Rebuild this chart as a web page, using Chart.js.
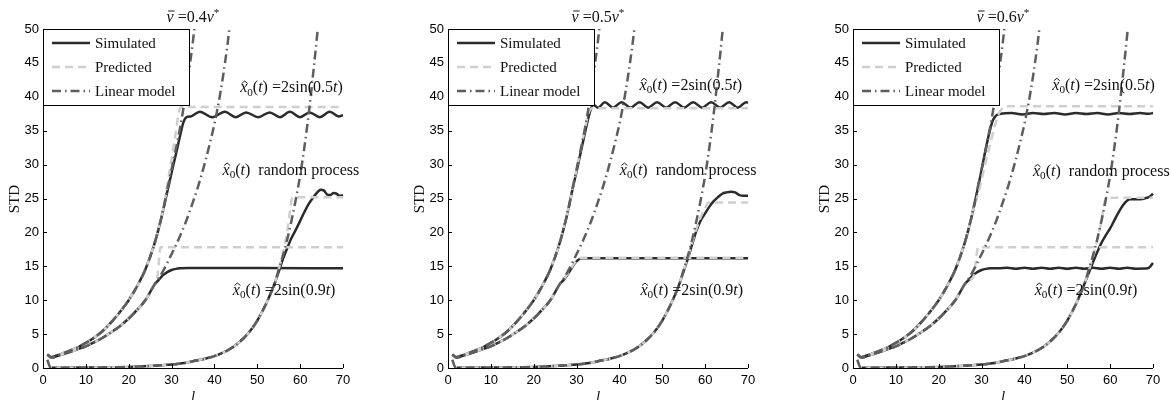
<!DOCTYPE html>
<html>
<head>
<meta charset="utf-8">
<script src="https://cdn.jsdelivr.net/npm/chart.js@4.4.1/dist/chart.umd.min.js"></script>
<style>
  html, body { margin: 0; padding: 0; background: #fff; }
  #wrap { position: relative; width: 1171px; height: 400px; overflow: hidden; }
  canvas { position: absolute; top: 0; }
</style>
</head>
<body>
<div id="wrap">
  <canvas id="c1" width="405" height="400" style="left:0px"></canvas>
  <canvas id="c2" width="405" height="400" style="left:405px"></canvas>
  <canvas id="c3" width="361" height="400" style="left:810px"></canvas>
</div>
<script>
// axis ticks and panel titles
const xTicks = [0, 10, 20, 30, 40, 50, 60, 70];
const yTicks = [0, 5, 10, 15, 20, 25, 30, 35, 40, 45, 50];
const speedRatios = ["0.4", "0.5", "0.6"];

// short starting marks of the predicted / linear curves
const startHigh = [[1, 2.0]];
const startLow = [[1, 1.2], [1.8, 0.05]];

// rising part shared by all three panels  [l, STD]
const riseUpper = [[2, 1.6], [4, 2.0], [6, 2.5], [8, 3.0], [10, 3.7], [12, 4.5], [14, 5.5], [16, 6.8], [18, 8.3], [20, 10.0], [22, 12.1], [24, 14.7], [26, 18.3], [27, 20.6], [28, 23.2]];
const riseMiddle = [[2, 1.5], [4, 1.9], [6, 2.3], [8, 2.75], [10, 3.2], [12, 3.8], [14, 4.5], [16, 5.3], [18, 6.2], [20, 7.3], [22, 8.6], [24, 10.1], [25, 11.2], [26, 12.3]];
const riseLower = [[2, 0.05], [6, 0.05], [10, 0.06], [15, 0.08], [20, 0.15], [25, 0.3], [28, 0.42], [30, 0.52], [33, 0.75], [35, 1.0], [38, 1.4], [40, 1.75], [42, 2.25], [44, 2.95], [46, 3.9], [48, 5.2], [50, 7.0], [52, 9.4], [54, 12.4]];

// linear model continues upward (same in every panel)
const linUpperTail = [[29, 26.3], [30, 29.3], [31, 32.3], [32, 35.5], [33, 39.2], [34, 43.5], [35, 48.3], [35.4, 50.6]];
const linMiddleTail = [[27, 13.2], [28, 14.3], [29, 15.5], [30, 16.8], [31, 18.1], [32, 19.5], [33, 21.0], [34, 22.7], [35, 24.5], [36, 26.4], [37, 28.5], [38, 30.8], [39, 33.3], [40, 36.0], [41, 39.2], [42, 43.0], [43, 47.5], [43.6, 50.6]];
const linLowerTail = [[55, 14.5], [56, 16.6], [57, 19.0], [58, 21.8], [59, 24.9], [60, 28.4], [61, 32.6], [62, 37.5], [63, 43.2], [64, 49.3], [64.2, 50.6]];

// panel 1  (v = 0.4 v*)
const simUpperTail1 = [[29, 26.0], [30, 28.8], [31, 31.5], [32, 34.3], [32.8, 36.3], [33.5, 37.0], [34.5, 37.1], [36.6, 37.8], [39.5, 37.0], [42.4, 37.8], [45, 37.0], [47.4, 37.7], [50.2, 37.0], [52.9, 37.7], [55.3, 37.0], [57.6, 37.8], [60, 37.0], [62.2, 37.7], [64.6, 37.0], [66.9, 37.8], [69, 37.1], [70, 37.3]];
const predUpperTail1 = [[29, 27.0], [30, 30.8], [31, 34.8], [31.8, 38.1], [32.4, 38.5], [70, 38.5]];
const simMiddleTail1 = [[27, 13.0], [28, 13.7], [29, 14.15], [30, 14.45], [31, 14.62], [32, 14.7], [34, 14.75], [50, 14.75], [70, 14.7]];
const predMiddleTail1 = [[26.5, 12.6], [27.0, 15.5], [27.4, 17.8], [70, 17.8]];
const simLowerTail1 = [[55, 14.2], [56, 16.1], [57, 17.7], [58, 19.2], [59, 20.4], [60, 21.7], [61, 23.0], [62, 24.2], [63, 25.1], [64, 25.9], [64.8, 26.3], [65.5, 26.2], [66.3, 25.6], [67, 25.5], [67.8, 25.8], [68.5, 25.7], [69.2, 25.4], [70, 25.5]];
const predLowerTail1 = [[55, 14.6], [56, 17.0], [57, 20.2], [57.6, 23.0], [58.1, 25.0], [58.7, 25.2], [70, 25.2]];

// panel 2  (v = 0.5 v*)
const simUpperTail2 = [[29, 26.2], [30, 29.0], [31, 31.9], [32, 34.8], [32.8, 37.0], [33.5, 38.5], [34, 38.8], [35, 38.4], [36.6, 39.2], [38.5, 38.4], [40.5, 39.2], [42.6, 38.4], [44.7, 39.2], [46.7, 38.4], [48.8, 39.2], [50.9, 38.4], [53, 39.2], [55.1, 38.4], [57.2, 39.2], [59.3, 38.4], [61.4, 39.2], [63.5, 38.4], [65.6, 39.2], [67.6, 38.4], [69.6, 39.2], [70, 39.1]];
const predUpperTail2 = [[29, 26.3], [30, 29.3], [31, 32.4], [32, 35.4], [32.8, 37.6], [33.6, 38.3], [70, 38.3]];
const simMiddleTail2 = [[27, 13.0], [28, 13.9], [29, 14.9], [29.8, 15.6], [30.5, 16.0], [31.3, 16.2], [70, 16.2]];
const predMiddleTail2 = [[27, 13.1], [28, 14.0], [29, 15.0], [29.9, 15.8], [30.6, 16.15], [31.5, 16.25], [70, 16.25]];
const simLowerTail2 = [[55, 14.3], [56, 16.2], [57, 18.3], [58, 20.3], [59, 21.8], [60, 22.8], [61, 23.8], [62, 24.6], [63, 25.2], [64, 25.7], [65, 25.9], [66, 26.0], [67, 25.9], [68, 25.5], [69, 25.4], [70, 25.4]];
const predLowerTail2 = [[55, 14.4], [56, 16.4], [57, 18.6], [58, 20.6], [59, 22.3], [60, 23.6], [60.8, 24.4], [70, 24.4]];

// panel 3  (v = 0.6 v*)
const simUpperTail3 = [[29, 26.1], [30, 29.2], [31, 32.4], [32, 35.2], [32.7, 36.6], [33.5, 37.3], [34.5, 37.5], [37, 37.6], [39.5, 37.4], [42, 37.6], [44.5, 37.45], [47, 37.6], [49.5, 37.4], [52, 37.6], [54.5, 37.45], [57, 37.6], [59.5, 37.4], [62, 37.6], [64.5, 37.45], [67, 37.6], [69, 37.5], [70, 37.6]];
const predUpperTail3 = [[29, 25.2], [30, 27.8], [31, 30.5], [32, 33.0], [33, 35.5], [34, 37.5], [35, 38.4], [36, 38.6], [70, 38.6]];
const simMiddleTail3 = [[27, 13.0], [28, 13.7], [29, 14.15], [30, 14.45], [31, 14.62], [32, 14.7], [34, 14.7], [36, 14.8], [38, 14.65], [40, 14.8], [42, 14.65], [44, 14.8], [46, 14.65], [48, 14.8], [50, 14.65], [52, 14.8], [54, 14.65], [56, 14.8], [58, 14.65], [60, 14.8], [62, 14.65], [64, 14.8], [66, 14.65], [68.8, 14.7], [69.4, 15.0], [70, 15.5]];
const predMiddleTail3 = [[27, 12.9], [28.2, 13.6], [28.7, 16.0], [29.2, 17.8], [70, 17.8]];
const simLowerTail3 = [[55, 14.0], [56, 15.6], [57, 17.1], [58, 18.5], [59, 19.6], [60, 20.6], [61, 21.8], [62, 23.0], [63, 24.0], [64, 24.7], [64.6, 24.9], [67, 24.9], [68.5, 25.1], [69.3, 25.3], [70, 25.7]];
const predLowerTail3 = [[55, 14.3], [56, 16.4], [57, 18.9], [58, 21.8], [58.6, 24.2], [59.1, 25.1], [70, 25.1]];

const simTails = [
  [simUpperTail1, simMiddleTail1, simLowerTail1],
  [simUpperTail2, simMiddleTail2, simLowerTail2],
  [simUpperTail3, simMiddleTail3, simLowerTail3],
];
const predTails = [
  [predUpperTail1, predMiddleTail1, predLowerTail1],
  [predUpperTail2, predMiddleTail2, predLowerTail2],
  [predUpperTail3, predMiddleTail3, predLowerTail3],
];

// where the curve notes sit, in data units (left edge, middle)
const noteAnchors = [
  [[46.0, 41.3], [41.9, 29.2], [44.3, 11.5]],
  [[44.7, 41.7], [40.1, 29.2], [44.9, 11.5]],
  [[46.5, 41.7], [42.0, 29.0], [42.4, 11.5]],
];

const serif = '"Liberation Serif", "Times New Roman", serif';
const sans = '"Liberation Sans", Arial, sans-serif';

const styles = {
  sim: { borderColor: "#2b2b2b", borderWidth: 2.5, borderDash: [] },
  pred: { borderColor: "#cfcfcf", borderWidth: 2.5, borderDash: [8, 5] },
  lin: { borderColor: "#5e5e5e", borderWidth: 2.5, borderDash: [9, 4, 1.5, 4] },
};

function pts(...parts) {
  return [].concat(...parts).map((p) => ({ x: p[0], y: p[1] }));
}

function line(data, style) {
  return Object.assign(
    {
      data: data,
      showLine: true,
      pointRadius: 0,
      fill: false,
      cubicInterpolationMode: "monotone",
      clip: { left: 3, top: 0, right: 3, bottom: 3 },
    },
    style
  );
}

// draws a run of text pieces (italic, subscript, hat, bar...) like a math label
function drawMath(ctx, runs, x, y, align) {
  const size = 16;
  const fontOf = (r) => (r.it ? "italic " : "") + (r.sub || r.sup ? size * 0.7 : size) + "px " + serif;
  let total = 0;
  runs.forEach((r) => {
    ctx.font = fontOf(r);
    r.w = ctx.measureText(r.t).width;
    total += r.w;
  });
  let cx = align === "center" ? x - total / 2 : x;
  ctx.textAlign = "left";
  ctx.textBaseline = "alphabetic";
  runs.forEach((r) => {
    ctx.font = fontOf(r);
    const dy = r.sub ? 3.5 : r.sup ? -5.5 : 0;
    ctx.fillText(r.t, cx, y + dy);
    const m = cx + r.w / 2 + 1;
    ctx.lineWidth = 0.9;
    if (r.hat) {
      ctx.beginPath();
      ctx.moveTo(m - 3, y - 9);
      ctx.lineTo(m, y - 11.5);
      ctx.lineTo(m + 3, y - 9);
      ctx.stroke();
    }
    if (r.bar) {
      ctx.beginPath();
      ctx.moveTo(m - 3, y - 10.5);
      ctx.lineTo(m + 3.5, y - 10.5);
      ctx.stroke();
    }
    cx += r.w;
  });
}

function noteRuns(tail) {
  return [
    { t: "x", it: true, hat: true },
    { t: "0", sub: true },
    { t: "(" },
    { t: "t", it: true },
  ].concat(tail);
}

const decor = {
  id: "decor",
  afterDraw(chart, args, opts) {
    const { ctx, chartArea: a, scales } = chart;
    const x = scales.x, y = scales.y;
    ctx.save();
    ctx.strokeStyle = "#000";
    ctx.fillStyle = "#111";
    ctx.lineWidth = 1;

    // axes with inward ticks
    ctx.beginPath();
    ctx.moveTo(a.left + 0.5, a.top);
    ctx.lineTo(a.left + 0.5, a.bottom + 0.5);
    ctx.lineTo(a.right, a.bottom + 0.5);
    xTicks.forEach((v) => {
      const px = Math.round(x.getPixelForValue(v)) + 0.5;
      ctx.moveTo(px, a.bottom);
      ctx.lineTo(px, a.bottom - 4);
    });
    yTicks.forEach((v) => {
      const py = Math.round(y.getPixelForValue(v)) + 0.5;
      ctx.moveTo(a.left, py);
      ctx.lineTo(a.left + 4, py);
    });
    ctx.stroke();

    // curve notes
    const an = noteAnchors[opts.panel];
    const notes = [
      noteRuns([{ t: ") =2sin(0.5" }, { t: "t", it: true }, { t: ")" }]),
      noteRuns([{ t: ")  random process" }]),
      noteRuns([{ t: ") =2sin(0.9" }, { t: "t", it: true }, { t: ")" }]),
    ];
    notes.forEach((runs, i) => {
      drawMath(ctx, runs, x.getPixelForValue(an[i][0]), y.getPixelForValue(an[i][1]) + 4.5, "left");
    });

    // title
    drawMath(
      ctx,
      [{ t: "v", it: true, bar: true }, { t: " =" + speedRatios[opts.panel] }, { t: "v", it: true }, { t: "*", sup: true }],
      (a.left + a.right) / 2,
      21.5,
      "center"
    );

    // legend box
    ctx.fillStyle = "#fff";
    ctx.fillRect(a.left + 0.5, a.top + 0.5, 146, 76);
    ctx.strokeStyle = "#000";
    ctx.lineWidth = 1;
    ctx.setLineDash([]);
    ctx.strokeRect(a.left + 0.5, a.top + 0.5, 146, 76);
    const rows = [["Simulated", styles.sim], ["Predicted", styles.pred], ["Linear model", styles.lin]];
    rows.forEach((row, i) => {
      const cy = a.top + 14 + 24 * i;
      ctx.beginPath();
      ctx.strokeStyle = row[1].borderColor;
      ctx.lineWidth = row[1].borderWidth;
      ctx.setLineDash(row[1].borderDash);
      ctx.moveTo(a.left + 9, cy);
      ctx.lineTo(a.left + 47, cy);
      ctx.stroke();
      ctx.setLineDash([]);
      ctx.fillStyle = "#111";
      ctx.font = "15px " + serif;
      ctx.textAlign = "left";
      ctx.textBaseline = "alphabetic";
      ctx.fillText(row[0], a.left + 52, cy + 5);
    });

    // axis titles
    ctx.font = "italic 15px " + serif;
    ctx.textAlign = "center";
    ctx.fillText("l", (a.left + a.right) / 2, 401);
    ctx.translate(14, 199);
    ctx.rotate(-Math.PI / 2);
    ctx.font = "15px " + serif;
    ctx.fillText("STD", 0, 5);
    ctx.restore();
  },
};

function makePanel(id, panel, rightPad) {
  const s = simTails[panel], p = predTails[panel];
  const datasets = [
    line(pts(startHigh, riseUpper, linUpperTail), styles.lin),
    line(pts(startHigh, riseMiddle, linMiddleTail), styles.lin),
    line(pts(startLow, riseLower, linLowerTail), styles.lin),
    line(pts(startHigh, riseUpper, p[0]), styles.pred),
    line(pts(startHigh, riseMiddle, p[1]), styles.pred),
    line(pts(startLow, riseLower, p[2]), styles.pred),
    line(pts(riseUpper, s[0]), styles.sim),
    line(pts(riseMiddle, s[1]), styles.sim),
    line(pts(riseLower, s[2]), styles.sim),
  ];
  return new Chart(document.getElementById(id), {
    type: "scatter",
    data: { datasets: datasets },
    plugins: [decor],
    options: {
      responsive: false,
      animation: false,
      layout: { padding: { top: 29, right: rightPad, left: 0, bottom: 0 } },
      plugins: {
        legend: { display: false },
        tooltip: { enabled: false },
        decor: { panel: panel },
      },
      scales: {
        x: {
          type: "linear",
          min: 0,
          max: 70,
          grid: { display: false, drawTicks: false },
          border: { display: false },
          ticks: { font: { family: sans, size: 13 }, color: "#000", padding: 5, maxRotation: 0, autoSkip: false },
          afterBuildTicks: (sc) => { sc.ticks = xTicks.map((v) => ({ value: v })); },
          afterFit: (sc) => { sc.height = 32; },
        },
        y: {
          type: "linear",
          min: 0,
          max: 50,
          grid: { display: false, drawTicks: false },
          border: { display: false },
          ticks: { font: { family: sans, size: 13 }, color: "#000", padding: 4, autoSkip: false },
          afterBuildTicks: (sc) => { sc.ticks = yTicks.map((v) => ({ value: v })); },
          afterFit: (sc) => { sc.width = 43; },
        },
      },
    },
  });
}

makePanel("c1", 0, 62);
makePanel("c2", 1, 62);
makePanel("c3", 2, 18);
</script>
</body>
</html>
